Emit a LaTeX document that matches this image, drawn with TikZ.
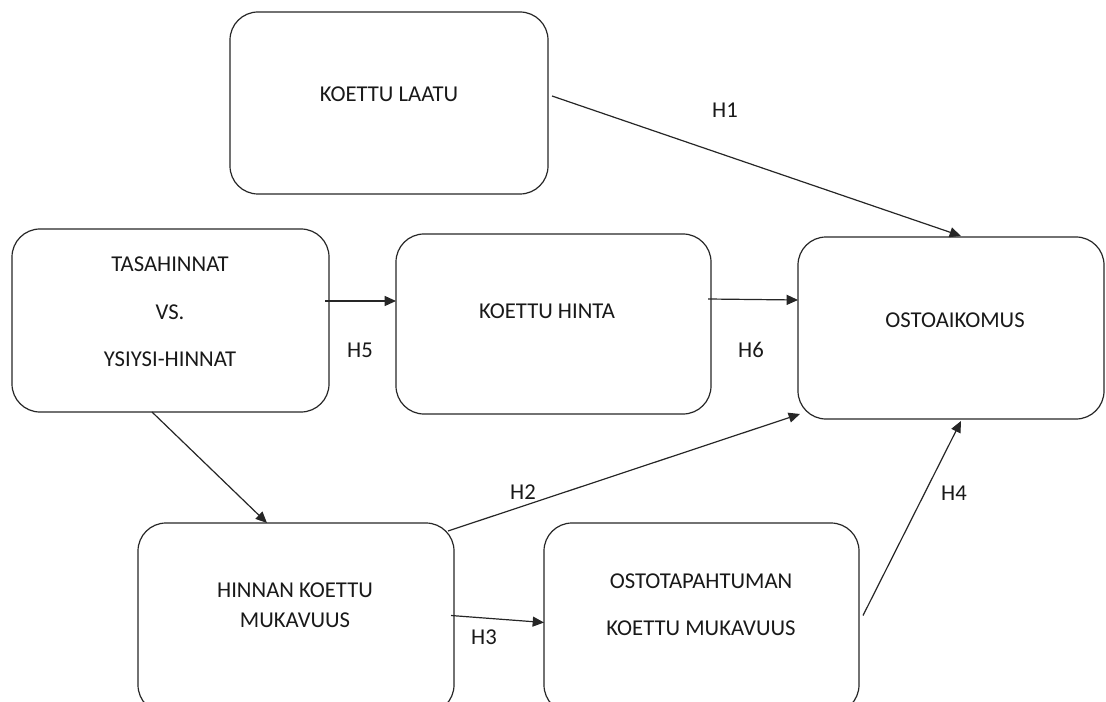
\documentclass[tikz,border=0pt]{standalone}
\usepackage{fontspec}
\setmainfont{Carlito}
\usetikzlibrary{arrows.meta,calc}
\newcommand\pxu{0.75pt}
\begin{document}
\begin{tikzpicture}[x=0.75pt,y=-0.75pt,
  box/.style={draw=black!85, line width=0.9pt, rounded corners=21pt,
    inner sep=0pt, outer sep=0pt},
  txt/.style={inner sep=0pt, align=center, text=black!90,
    font=\fontsize{17}{22.5}\selectfont},
  hyp/.style={inner sep=0pt, text=black!90, font=\fontsize{17}{20}\selectfont},
  arr/.style={line width=0.9pt, draw=black!85,
    -{Triangle[length=8.5pt,width=7.5pt]}}]
\useasboundingbox (0,0) rectangle (1106,702);
\clip (0,0) rectangle (1106,702);

% construct boxes
\node[box, minimum width=318*\pxu, minimum height=182*\pxu] (A) at (389,103) {};
\node[box, minimum width=317*\pxu, minimum height=183*\pxu] (B) at (170.5,320.5) {};
\node[box, minimum width=315*\pxu, minimum height=180*\pxu] (C) at (553.5,324) {};
\node[box, minimum width=306*\pxu, minimum height=182*\pxu] (D) at (951,328) {};
\node[box, minimum width=316*\pxu, minimum height=190*\pxu] (E) at (296,618) {};
\node[box, minimum width=315*\pxu, minimum height=190*\pxu] (F) at (701.5,618) {};

% box texts
\node[txt] (At) at (389,94) {KOETTU LAATU};
\node[txt] (Bt) at (170,312) {TASAHINNAT\\[13pt]VS.\\[13pt]YSIYSI-HINNAT};
\node[txt] (Ct) at (547,311) {KOETTU HINTA};
\node[txt] (Dt) at (955,320) {OSTOAIKOMUS};
\node[txt] (Et) at (295,605) {HINNAN KOETTU\\MUKAVUUS};
\node[txt] (Ft) at (701,605) {OSTOTAPAHTUMAN\\[13pt]KOETTU MUKAVUUS};

% hypothesis paths
\draw[arr] ($(A.east)+(4,-7)$) -- ($(D.north)+(10,-1)$);
\draw[arr] ($(B.east)+(-4,-19.5)$) -- ($(C.west)+(0,-23)$);
\draw[arr] ($(C.east)+(-3,-25)$) -- ($(D.west)+(0,-28)$);
\draw[arr] ($(B.south)+(-18.5,0)$) -- ($(E.north)+(-29,0)$);
\draw[arr] ($(E.north east)+(-6,8)$) -- ($(D.south west)+(2,-5)$);
\draw[arr] ($(E.east)+(-3,-2.5)$) -- ($(F.west)+(0,4.5)$);
\draw[arr] ($(F.east)+(4,-2.5)$) -- ($(D.south)+(10,2)$);

% hypothesis labels
\node[hyp] (H1) at (725,110) {H1};
\node[hyp] (H5) at (360,350) {H5};
\node[hyp] (H6) at (751,350) {H6};
\node[hyp] (H2) at (523,492) {H2};
\node[hyp] (H3) at (484,637) {H3};
\node[hyp] (H4) at (954,493) {H4};
\end{tikzpicture}
\end{document}
